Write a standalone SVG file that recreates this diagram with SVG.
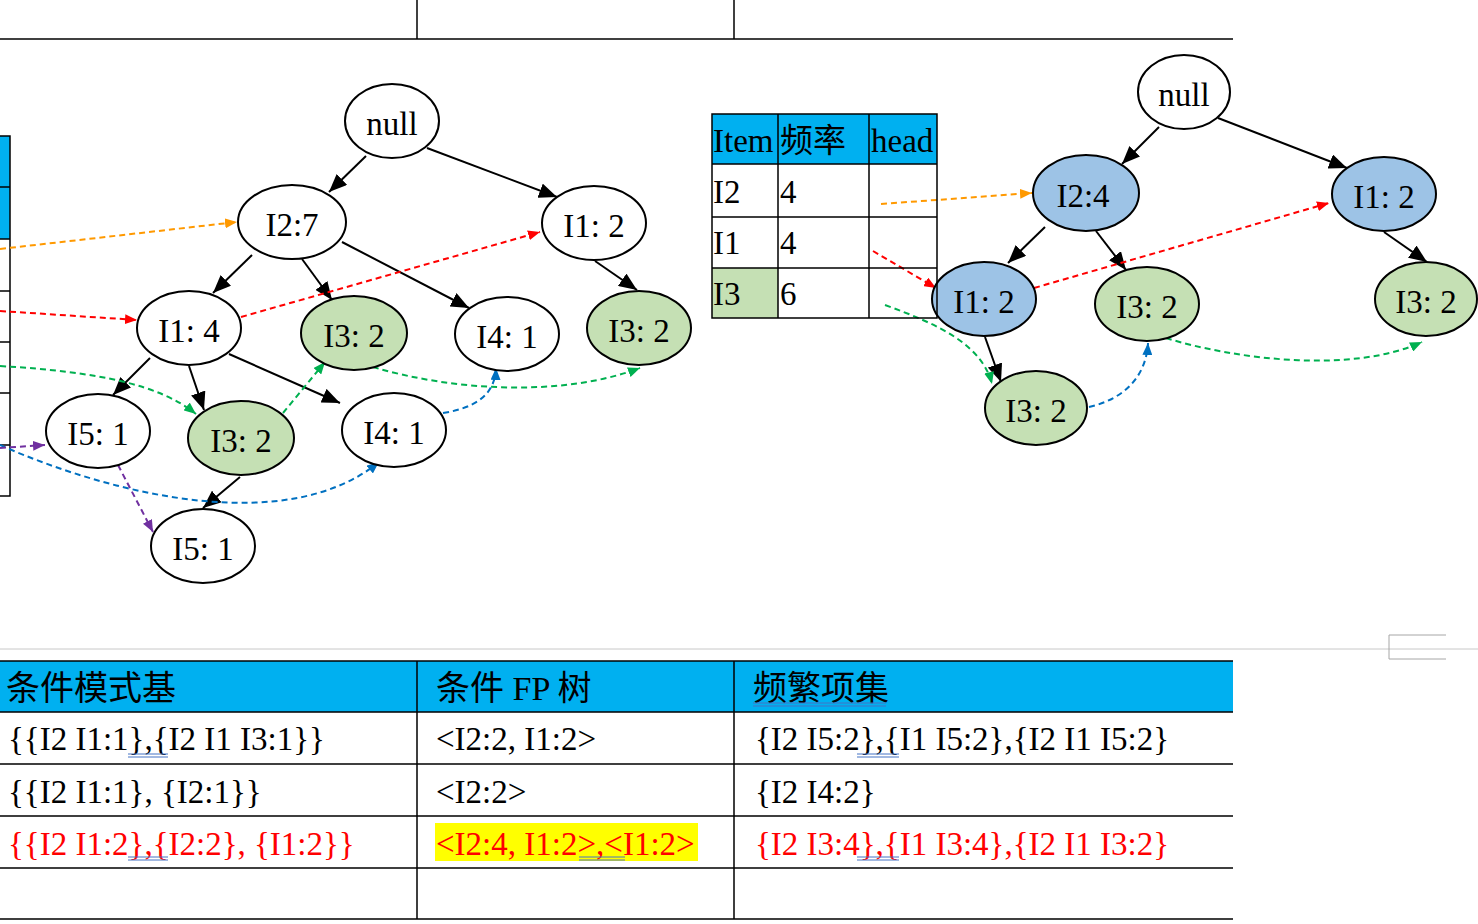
<svg xmlns="http://www.w3.org/2000/svg" width="1478" height="924" viewBox="0 0 1478 924">
<style>
.nd{stroke:#000;stroke-width:2;fill:#fff}
.g{fill:#C5E0B4}
.b{fill:#9DC3E6}
.t{font-family:"Liberation Serif","Noto Sans CJK SC",serif;font-size:33px;fill:#000}
.tc{text-anchor:middle}
.tb{font-family:"Liberation Serif","Noto Sans CJK SC",serif;font-size:33px;fill:#000}
.red{fill:#FF0000}
.e{stroke:#000;stroke-width:2;fill:none;marker-end:url(#ab)}
.d{stroke-width:2;fill:none;stroke-dasharray:6,4}
.or{stroke:#FF9900;marker-end:url(#ao)}
.rd{stroke:#FF0000;marker-end:url(#ar)}
.gr{stroke:#00B050;marker-end:url(#ag)}
.bl{stroke:#0070C0;marker-end:url(#abl)}
.pu{stroke:#7030A0;marker-end:url(#ap)}
.ln{stroke:#000;stroke-width:1.5;fill:none}
.sp{stroke:#4472C4;stroke-width:1;fill:none}
</style>
<defs>
<marker id="ab" markerUnits="userSpaceOnUse" viewBox="0 0 18 15" markerWidth="18" markerHeight="15" refX="18" refY="7.5" orient="auto"><path d="M0,0L18,7.5L0,15z" fill="#000"/></marker>
<marker id="ao" markerUnits="userSpaceOnUse" viewBox="0 0 12 10" markerWidth="12" markerHeight="10" refX="12" refY="5" orient="auto"><path d="M0,0L12,5L0,10z" fill="#FF9900"/></marker>
<marker id="ar" markerUnits="userSpaceOnUse" viewBox="0 0 12 10" markerWidth="12" markerHeight="10" refX="12" refY="5" orient="auto"><path d="M0,0L12,5L0,10z" fill="#FF0000"/></marker>
<marker id="ag" markerUnits="userSpaceOnUse" viewBox="0 0 12 10" markerWidth="12" markerHeight="10" refX="12" refY="5" orient="auto"><path d="M0,0L12,5L0,10z" fill="#00B050"/></marker>
<marker id="abl" markerUnits="userSpaceOnUse" viewBox="0 0 12 10" markerWidth="12" markerHeight="10" refX="12" refY="5" orient="auto"><path d="M0,0L12,5L0,10z" fill="#0070C0"/></marker>
<marker id="ap" markerUnits="userSpaceOnUse" viewBox="0 0 12 10" markerWidth="12" markerHeight="10" refX="12" refY="5" orient="auto"><path d="M0,0L12,5L0,10z" fill="#7030A0"/></marker>
</defs>
<rect width="1478" height="924" fill="#fff"/>

<g id="top-table">
<line class="ln" x1="0" y1="39" x2="1233" y2="39"/>
<line class="ln" x1="417" y1="0" x2="417" y2="39"/>
<line class="ln" x1="734" y1="0" x2="734" y2="39"/>
</g>

<g id="left-table">
<rect x="0" y="136" width="10" height="103" fill="#00B0F0"/>
<path class="ln" d="M0,136H10V496H0M0,187H10M0,239H10M0,291H10M0,342H10M0,393H10M0,445H10"/>
</g>

<g id="page-line">
<line x1="0" y1="649" x2="1478" y2="649" stroke="#C8C8C8" stroke-width="1"/>
<path d="M1446,635H1389V659H1446" stroke="#A6A6A6" stroke-width="1" fill="none"/>
</g>

<g id="connectors">
<line class="e" x1="366" y1="156" x2="329" y2="192"/>
<line class="e" x1="427" y1="148" x2="557" y2="197"/>
<line class="e" x1="252" y1="255" x2="213" y2="293"/>
<line class="e" x1="302" y1="259" x2="332" y2="300"/>
<line class="e" x1="342" y1="242" x2="469" y2="308"/>
<line class="e" x1="595" y1="261" x2="637" y2="290"/>
<line class="e" x1="150" y1="358" x2="113" y2="395"/>
<line class="e" x1="189" y1="366" x2="204" y2="410"/>
<line class="e" x1="229" y1="354" x2="340" y2="403"/>
<line class="e" x1="240" y1="477" x2="203" y2="508"/>

<line class="e" x1="1159" y1="127" x2="1122" y2="164"/>
<line class="e" x1="1218" y1="118" x2="1347" y2="168"/>
<line class="e" x1="1045" y1="227" x2="1008" y2="263"/>
<line class="e" x1="1096" y1="231" x2="1126" y2="270"/>
<line class="e" x1="1384" y1="232" x2="1427" y2="262"/>
<line class="e" x1="985" y1="337" x2="1001" y2="382"/>

<path class="d or" d="M0,249L237,222"/>
<path class="d rd" d="M0,311L137,320"/>
<path class="d rd" d="M241,317L540,232"/>
<path class="d gr" d="M0,366C100,372 160,385 196,414"/>
<path class="d gr" d="M283,413L325,362"/>
<path class="d gr" d="M373,367C450,390 560,398 640,368"/>
<path class="d bl" d="M443,413C475,408 495,395 496,368"/>
<path class="d bl" d="M0,445C120,498 290,535 379,462"/>
<path class="d pu" d="M0,448L45,445"/>
<path class="d pu" d="M118,465L153,532"/>

<path class="d or" d="M881,204L1032,193"/>
<path class="d rd" d="M873,251L936,288"/>
<path class="d rd" d="M1034,288L1329,203"/>
<path class="d gr" d="M885,305C940,325 982,345 992,384"/>
<path class="d gr" d="M1166,338C1230,358 1350,375 1422,342"/>
<path class="d bl" d="M1089,407C1120,400 1146,380 1148,343"/>
</g>

<g id="n-null-l"><ellipse class="nd" cx="392" cy="121" rx="47" ry="37"/><text class="t tc" x="392" y="135">null</text></g>
<g id="n-i2-7"><ellipse class="nd" cx="292" cy="222" rx="54" ry="37"/><text class="t tc" x="292" y="236">I2:7</text></g>
<g id="n-i1-2-l"><ellipse class="nd" cx="594" cy="223" rx="52" ry="37"/><text class="t tc" x="594" y="237">I1: 2</text></g>
<g id="n-i1-4"><ellipse class="nd" cx="189" cy="328" rx="52" ry="37"/><text class="t tc" x="189" y="342">I1: 4</text></g>
<g id="n-i3-2-a"><ellipse class="nd g" cx="354" cy="333" rx="53" ry="37"/><text class="t tc" x="354" y="347">I3: 2</text></g>
<g id="n-i4-1-a"><ellipse class="nd" cx="507" cy="334" rx="52" ry="37"/><text class="t tc" x="507" y="348">I4: 1</text></g>
<g id="n-i3-2-b"><ellipse class="nd g" cx="639" cy="328" rx="52" ry="37"/><text class="t tc" x="639" y="342">I3: 2</text></g>
<g id="n-i5-1-a"><ellipse class="nd" cx="98" cy="431" rx="52" ry="37"/><text class="t tc" x="98" y="445">I5: 1</text></g>
<g id="n-i3-2-c"><ellipse class="nd g" cx="241" cy="438" rx="53" ry="37"/><text class="t tc" x="241" y="452">I3: 2</text></g>
<g id="n-i4-1-b"><ellipse class="nd" cx="394" cy="430" rx="52" ry="37"/><text class="t tc" x="394" y="444">I4: 1</text></g>
<g id="n-i5-1-b"><ellipse class="nd" cx="203" cy="546" rx="52" ry="37"/><text class="t tc" x="203" y="560">I5: 1</text></g>

<g id="n-null-r"><ellipse class="nd" cx="1184" cy="92" rx="46" ry="37"/><text class="t tc" x="1184" y="106">null</text></g>
<g id="n-i2-4"><ellipse class="nd b" cx="1086" cy="193" rx="53" ry="38"/><text class="t tc" x="1083" y="207">I2:4</text></g>
<g id="n-i1-2-r"><ellipse class="nd b" cx="1384" cy="194" rx="52" ry="37"/><text class="t tc" x="1384" y="208">I1: 2</text></g>
<g id="n-i1-2-r2"><ellipse class="nd b" cx="984" cy="299" rx="52" ry="37"/><text class="t tc" x="984" y="313">I1: 2</text></g>
<g id="n-i3-2-r1"><ellipse class="nd g" cx="1147" cy="304" rx="52" ry="37"/><text class="t tc" x="1147" y="318">I3: 2</text></g>
<g id="n-i3-2-r2"><ellipse class="nd g" cx="1426" cy="299" rx="51" ry="37"/><text class="t tc" x="1426" y="313">I3: 2</text></g>
<g id="n-i3-2-r3"><ellipse class="nd g" cx="1036" cy="408" rx="51" ry="37"/><text class="t tc" x="1036" y="422">I3: 2</text></g>

<g id="header-table">
<rect x="712" y="114" width="225" height="50" fill="#00B0F0"/>
<rect x="712" y="268" width="66" height="50" fill="#C5E0B4"/>
<path class="ln" d="M712,114H937V318H712ZM712,164H937M712,217H937M712,268H937M778,114V318M869,114V318"/>
<text class="t" x="713" y="152">Item</text>
<text class="t" x="780" y="152">频率</text>
<text class="t" x="871" y="152">head</text>
<text class="t" x="713" y="203">I2</text>
<text class="t" x="780" y="203">4</text>
<text class="t" x="713" y="254">I1</text>
<text class="t" x="780" y="254">4</text>
<text class="t" x="713" y="305">I3</text>
<text class="t" x="780" y="305">6</text>
</g>

<g id="bottom-table">
<rect x="0" y="661" width="1233" height="51" fill="#00B0F0"/>
<rect x="435" y="823" width="263" height="38" fill="#FFFF00"/>
<path class="ln" d="M0,661H1233M0,712H1233M0,764H1233M0,816H1233M0,868H1233M0,919H1233M417,661V919M734,661V919"/>
<text class="tb" x="6" y="700" style="font-size:34px">条件模式基</text>
<text class="tb" x="436" y="700" style="font-size:34px">条件 FP 树</text>
<text class="tb" x="753" y="700" style="font-size:34px">频繁项集</text>
<path class="sp" d="M753,703H886M753,706H886"/>
<text class="tb" x="8" y="750">{{I2 I1:1},{I2 I1 I3:1}}</text>
<path class="sp" d="M128,754H168M128,757H168"/>
<text class="tb" x="436" y="750">&lt;I2:2, I1:2&gt;</text>
<text class="tb" x="755" y="750">{I2 I5:2},{I1 I5:2},{I2 I1 I5:2}</text>
<path class="sp" d="M857,754H899M857,757H899"/>
<text class="tb" x="8" y="803">{{I2 I1:1}, {I2:1}}</text>
<text class="tb" x="436" y="803">&lt;I2:2&gt;</text>
<text class="tb" x="755" y="803">{I2 I4:2}</text>
<text class="tb red" x="8" y="855">{{I2 I1:2},{I2:2}, {I1:2}}</text>
<path class="sp" d="M128,857H168M128,860H168"/>
<text class="tb red" x="436" y="855">&lt;I2:4, I1:2&gt;,&lt;I1:2&gt;</text>
<path class="sp" d="M579,857H625M579,860H625"/>
<text class="tb red" x="755" y="855">{I2 I3:4},{I1 I3:4},{I2 I1 I3:2}</text>
<path class="sp" d="M857,857H899M857,860H899"/>
</g>
</svg>
